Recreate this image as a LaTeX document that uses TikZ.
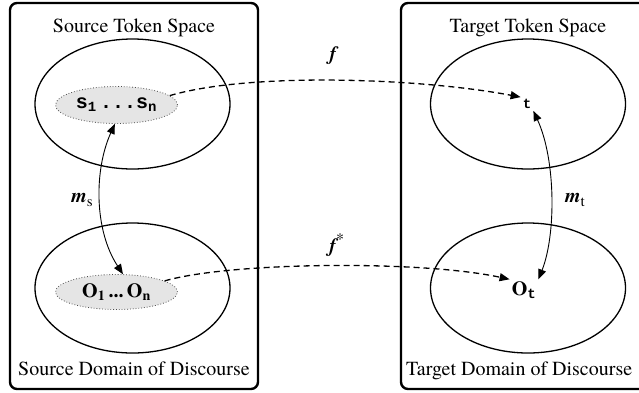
\documentclass[tikz,border=0pt]{standalone}
\usepackage{fontspec}
\setmainfont{TeX Gyre Termes}
\setmonofont{Liberation Mono}
\usetikzlibrary{shapes.geometric,arrows.meta}
\begin{document}
\begin{tikzpicture}[x=1pt,y=-1pt,
  every node/.style={font=\fontsize{20}{24}\selectfont},
  bigbox/.style={line width=2.4pt,rounded corners=7pt},
  outerell/.style={draw,ellipse,line width=1.3pt,minimum width=195pt,minimum height=130pt,inner sep=0pt},
  innerell/.style={draw=black!70,dotted,line width=0.8pt,fill=black!10,ellipse,minimum width=122pt,minimum height=37pt,inner sep=0pt},
  dasharrow/.style={dashed,dash pattern=on 6pt off 4pt,line width=1.3pt,-{Triangle[length=10pt,width=8pt]}},
  marrow/.style={line width=0.9pt,{Triangle[length=10pt,width=8pt]}-{Triangle[length=10pt,width=8pt]}},
  lbl/.style={inner sep=1pt}]
\clip (0,0) rectangle (639,392);
% boxes
\draw[bigbox] (10,3) rectangle (258,389);
\draw[bigbox] (401,3) rectangle (670,389);
% titles
\node[anchor=base] (tsrc) at (134,32) {Source Token Space};
\node[anchor=base] (dsrc) at (134,375) {Source Domain of Discourse};
\node[anchor=base] (ttgt) at (528,32) {Target Token Space};
\node[anchor=base west,inner sep=0pt] (dtgt) at (406,375) {Target Domain of Discourse};
% outer ellipses
\node[outerell] (e1) at (132.5,104) {};
\node[outerell] (e2) at (132.5,288) {};
\node[outerell] (e3) at (528,104) {};
\node[outerell] (e4) at (528,288) {};
% inner ellipses
\node[innerell] (src) at (116.5,105) {\ttfamily\bfseries s\textsubscript{1}\,...s\textsubscript{n}};
\node[innerell,minimum height=35pt] (objs) at (116.5,292) {\bfseries O\textsubscript{1}\,...\,O\textsubscript{n}};
% targets
\node[inner sep=2pt,font=\fontsize{14}{16}\selectfont\ttfamily\bfseries] (tt) at (527,104) {t};
\node[inner sep=2pt] (ot) at (524,290) {\bfseries O\textsubscript{\ttfamily t}};
% mappings
\draw[dasharrow] (src.10) .. controls (250,72) and (420,78) .. (tt.north west);
\draw[dasharrow] (objs.13) .. controls (230,262) and (420,260) .. (ot.north west);
\draw[marrow] (src.265) .. controls (94,170) and (94,230) .. (objs.70);
\draw[marrow] (tt.south east) .. controls (556,160) and (556,235) .. (ot.north east);
% labels
\node[lbl] (fl) at (333,56) {\bfseries\itshape f};
\node[lbl] (fsl) at (337,245) {\bfseries\itshape f\textsuperscript{\mdseries\upshape\fontsize{16}{16}\selectfont *}};
\node[lbl] (msl) at (82,200) {\bfseries\itshape m\raisebox{-4pt}{\mdseries\upshape\fontsize{15}{15}\selectfont s}};
\node[lbl] (mtl) at (575,200) {\bfseries\itshape m\raisebox{-4pt}{\mdseries\upshape\fontsize{15}{15}\selectfont t}};
\end{tikzpicture}
\end{document}
